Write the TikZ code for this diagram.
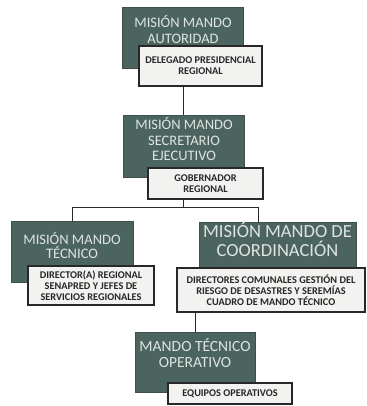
\documentclass[tikz,border=0pt]{standalone}
\usepackage{fontspec}
\setmainfont{Carlito}
\definecolor{darkteal}{RGB}{76,100,96}
\definecolor{titlegray}{RGB}{222,228,224}
\definecolor{litefill}{RGB}{242,242,240}
\definecolor{linecol}{RGB}{40,40,40}
\begin{document}
\begin{tikzpicture}[x=1pt,y=-1pt,
  darkbox/.style={draw=darkteal!80!black, line width=0.4pt, fill=darkteal, inner sep=0pt},
  litebox/.style={draw=linecol, line width=1.1pt, fill=litefill, inner sep=0pt, align=center,
     font=\fontsize{10.3}{10.8}\selectfont\bfseries, text=black!85},
  title/.style={align=center, text=titlegray, inner sep=0pt,
     font=\fontsize{14.5}{15.5}\selectfont},
  conn/.style={draw=linecol, line width=1pt}]
\useasboundingbox (0,0) rectangle (366,406);
\fill[white] (0,0) rectangle (366,406);
% box 1
\node[darkbox, minimum width=121pt, minimum height=61pt] (d1) at (182.5,37.5) {};
\node[title] (t1) at (183,29.5) {MISIÓN MANDO\\AUTORIDAD};
\node[litebox, minimum width=123pt, minimum height=40pt] (w1) at (200.5,66) {DELEGADO PRESIDENCIAL\\REGIONAL};
% box 2
\node[darkbox, minimum width=121pt, minimum height=62pt] (d2) at (183.5,146) {};
\node[title] (t2) at (184,139) {MISIÓN MANDO\\SECRETARIO\\EJECUTIVO};
\node[litebox, minimum width=115pt, minimum height=31pt] (w2) at (205.5,183.5) {GOBERNADOR\\REGIONAL};
% box 3
\node[darkbox, minimum width=122pt, minimum height=61pt] (d3) at (72,251.5) {};
\node[title, font=\fontsize{14.5}{13.5}\selectfont] (t3) at (72,245.5) {MISIÓN MANDO\\TÉCNICO};
\node[litebox, minimum width=126pt, minimum height=39pt] (w3) at (91,285.5) {DIRECTOR(A) REGIONAL\\SENAPRED Y JEFES DE\\SERVICIOS REGIONALES};
% box 4
\node[darkbox, minimum width=157pt, minimum height=51pt] (d4) at (277.5,247.5) {};
\node[title, font=\fontsize{18.5}{19}\selectfont] (t4) at (277.5,239) {MISIÓN MANDO DE\\COORDINACIÓN};
\node[litebox, minimum width=188pt, minimum height=44pt] (w4) at (271,290) {DIRECTORES COMUNALES GESTIÓN DEL\\RIESGO DE DESASTRES Y SEREMÍAS\\CUADRO DE MANDO TÉCNICO};
% box 5
\node[darkbox, minimum width=120pt, minimum height=60pt] (d5) at (195,362) {};
\node[title, font=\fontsize{15.5}{16}\selectfont] (t5) at (195,353.5) {MANDO TÉCNICO\\OPERATIVO};
\node[litebox, minimum width=124pt, minimum height=21pt] (w5) at (230,393.5) {EQUIPOS OPERATIVOS};
% connectors
\coordinate (j) at (183,207);
\coordinate (jl) at (72,207);
\coordinate (jr) at (258,207);
\coordinate (k) at (195,320);
\draw[conn] (j |- w1.south) -- (j |- d2.north);
\draw[conn] (j |- w2.south) -- (j);
\draw[conn] (jl) -- (jr);
\draw[conn] (jl) -- (jl |- d3.north);
\draw[conn] (jr) -- (jr |- d4.north);
\draw[conn] (k |- w4.south) -- (k |- d5.north);
\end{tikzpicture}
\end{document}
